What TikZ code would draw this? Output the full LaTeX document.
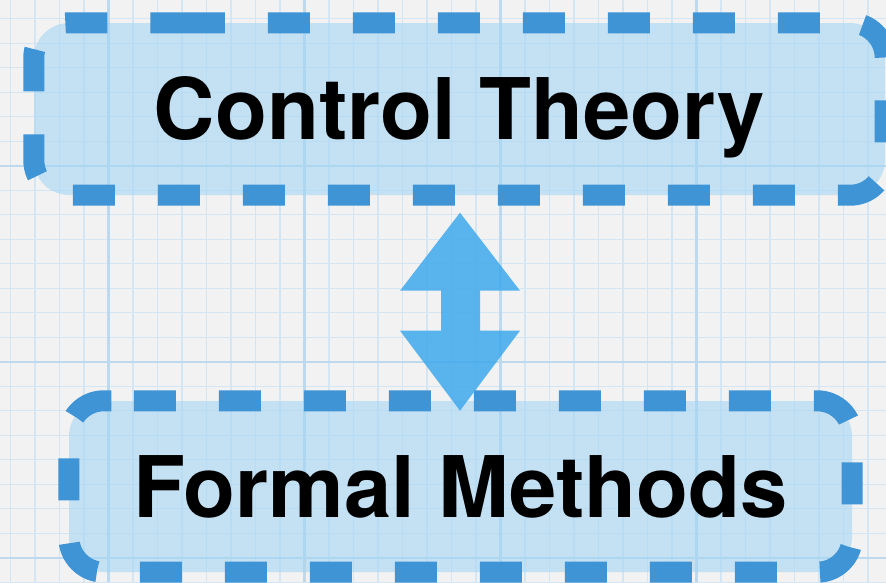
\documentclass[tikz,border=0pt]{standalone}
\usepackage{fontspec}
\setmainfont{TeX Gyre Heros}
\usetikzlibrary{calc}
\definecolor{paper}{RGB}{242,242,242}
\definecolor{gridminor}{RGB}{212,230,243}
\definecolor{gridmajor}{RGB}{188,217,238}
\definecolor{boxfill}{RGB}{164,214,244}
\definecolor{dashblue}{RGB}{63,148,214}
\definecolor{arrowblue}{RGB}{63,169,235}
\tikzset{
  boxshape/.style={rectangle, rounded corners=35pt, inner sep=0pt,
    fill=boxfill, fill opacity=0.6, text opacity=1,
    font=\fontsize{85}{85}\bfseries\selectfont, text=black,
    text height=61pt, text depth=0pt},
  dashedborder/.style={draw=dashblue, line width=21pt, rounded corners=35pt,
    dash pattern=on 42pt off 43pt, line cap=butt},
  minorline/.style={draw=gridminor, line width=1.4pt},
  majorline/.style={draw=gridmajor, line width=2.4pt},
  blockarrow/.style={fill=arrowblue, fill opacity=0.85, draw=none}
}
\begin{document}
\begin{tikzpicture}[x=1pt,y=-1pt]
\useasboundingbox (0,0) rectangle (886,582);
\clip (0,0) rectangle (886,582);
\fill[paper] (0,0) rectangle (886,582);
% grid
\foreach \i in {0,...,36} {\draw[minorline] (10.3+24.5*\i,0) -- (10.3+24.5*\i,582);}
\foreach \j in {0,...,23} {\draw[minorline] (0,18.7+24.5*\j) -- (886,18.7+24.5*\j);}
\foreach \i in {0,...,4} {\draw[majorline] (108.3+196*\i,0) -- (108.3+196*\i,582);}
\foreach \j in {0,...,2} {\draw[majorline] (0,165.7+196*\j) -- (886,165.7+196*\j);}
% boxes
\node[boxshape, minimum width=851pt, minimum height=172pt] (ct) at (459.5,109) {Control Theory};
\node[boxshape, minimum width=783pt, minimum height=171pt] (fm) at (460.5,486.5) {Formal Methods};
\coordinate (ctstart) at ($(ct.north west)+(149,0)$);
\coordinate (fmstart) at ($(fm.north west)+(65,0)$);
\draw[dashedborder] (ctstart) -- (ct.north east) -- (ct.south east) -- (ct.south west) -- (ct.north west) -- (ctstart);
\draw[dashedborder] (fmstart) -- (fm.north east) -- (fm.south east) -- (fm.south west) -- (fm.north west) -- (fmstart);
% double block arrow
\coordinate (tipA) at (460,212.7);
\coordinate (tipB) at (460,410.7);
\fill[blockarrow] (tipA) -- ($(tipA)+(60,78)$) -- ($(tipA)+(20,78)$) -- ($(tipB)+(20,-80)$) -- ($(tipB)+(60,-80)$) -- (tipB) -- ($(tipB)+(-60,-80)$) -- ($(tipB)+(-19,-80)$) -- ($(tipA)+(-19,78)$) -- ($(tipA)+(-60,78)$) -- cycle;
\end{tikzpicture}
\end{document}
